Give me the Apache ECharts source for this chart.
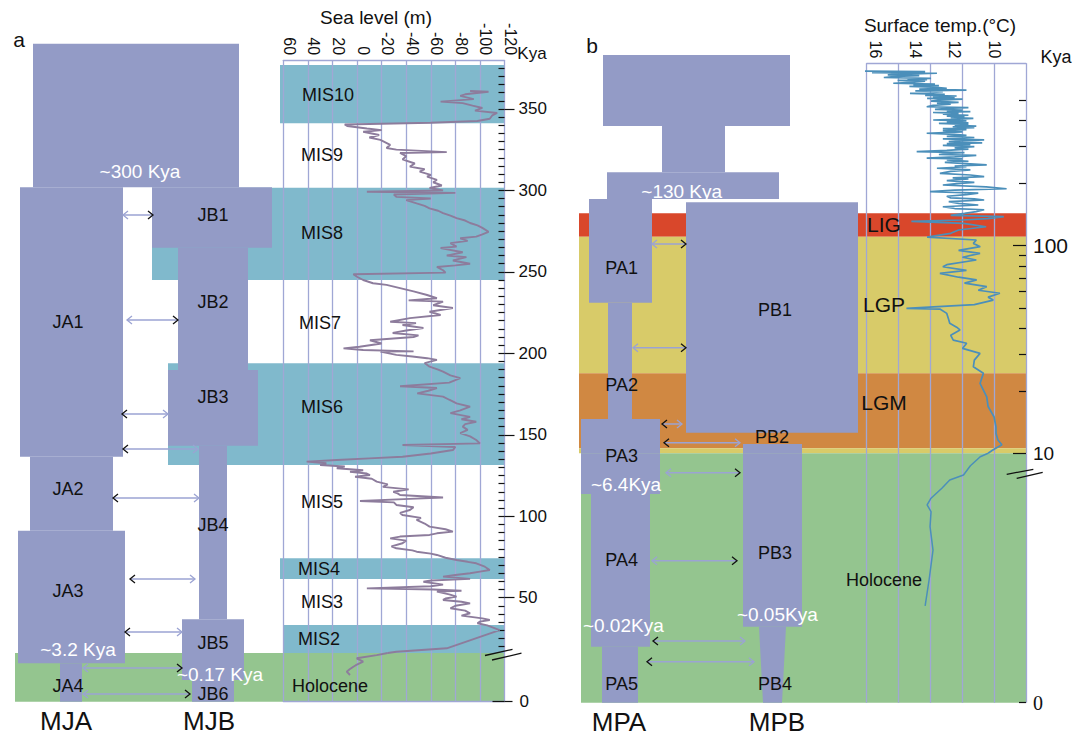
<!DOCTYPE html>
<html><head><meta charset="utf-8">
<script src="https://cdn.jsdelivr.net/npm/echarts@6/dist/echarts.min.js"></script>
<style>html,body{margin:0;padding:0;background:#fff}#c{width:1085px;height:738px}</style>
</head><body><div id="c"></div>
<script>
// ================= DATA =================
// Panel a: sea level (m) vs time (Kya)  [Kya, metres]
const seaLevel = [
[361,-92],[360.6,-107],[359,-88],[358,-84],[356,-95],[354.5,-68],[353.6,-86],[352,-94],[350.6,-102],[349,-96],
[347.5,-114],[346,-110],[344,-108],[342.6,-98],[341.5,-60],[340.5,10],[339.5,8],[338,-8],[337,-20],[336,-5],
[334,-18],[332.5,-10],[331,-19],[328,-27],[326,-24],[325,-32],[323.5,-73],[323,-35],[321,-40],[319,-37],
[316.5,-47],[314.6,-43],[313,-55],[311.5,-51],[309.5,-60],[308.4,-57],[306.5,-65],[305,-62],[303,-69],[301.5,-59],
[300,-70],[299.2,-8],[298.5,-80],[297.5,-30],[296,-32],[295,-60],[294,-40],[292,-48.5],[290.5,-55],[289,-59],
[287.5,-66],[286,-70],[284.5,-76],[283,-81],[281.5,-88],[280,-92],[278.5,-98],[277,-102],[274.6,-107],[273,-102],
[271.6,-97],[270.6,-84],[269,-90],[267.6,-76],[265.5,-81],[264.6,-68],[262,-86],[260,-73],[259,-89],[257,-78],
[255,-92],[254,-80],[253,-65],[251,-70],[249.5,-72],[248.5,3],[247,0],[245,-5],[243,-13],[242,-24],
[240,-35],[238,-46],[235.8,-57],[233.8,-65],[232.5,-42],[231.7,-70],[229.5,-62],[227.8,-78],[225.5,-59],[223.5,-68],
[221.6,-43],[219.4,-27],[218.5,-48],[217.4,-37],[215.5,-54],[214,-40],[212.5,-29],[211,-50],[210,-46],[208,-10.5],
[206,-20],[204,-2],[203,11],[202,-5],[201.2,-46],[201,-19],[199,-32],[198,-45],[197,-57],[196,-65],
[194,-55],[191.8,-59],[190,-66],[188.7,-70],[186.5,-76],[184.8,-84],[182,-75],[179.8,-35],[178.7,-65],[177,-58],
[175.4,-49],[173.4,-70],[171.5,-75],[169.3,-81],[167.2,-92],[165,-84],[163.3,-76],[161,-92],[159.5,-85],[158,-97],
[156.5,-88],[155,-86],[153,-90],[151,-84],[149,-92],[146.8,-97],[144.7,-100],[143.7,-37],[142.5,-80],[140.6,-78],
[138.5,-60],[136.5,-37],[135.5,-10],[134.5,16.5],[133.5,41],[132.5,25],[131.4,30],[130.5,10],[129.4,16.5],[128.2,-5],
[127.3,5.7],[126.2,-8],[125.3,-10.5],[124.2,1.6],[123,-12],[121.2,-16],[119.5,-25],[118,-21],[116.5,-42],[115,-29.5],
[114,-33],[113,-35],[111.5,-70],[110.5,-38],[109.3,-2.4],[108.5,-30],[106.9,-32],[105.5,-46],[103.8,-43],[102,-35],
[100.7,-37],[99,-52],[97.7,-48.5],[95.5,-55],[93.6,-59],[92,-72],[90.5,-78],[89.5,-65],[88.5,-59],[87.5,-35],
[86.4,-27],[85,-40],[83.4,-37],[81.5,-28],[80.3,-32],[79,-45],[78.2,-48.5],[77,-60],[76.2,-65],[74.5,-72],
[73.1,-81],[72,-90],[71.1,-97],[69,-104],[67,-108],[66,-100],[65,-92],[63.9,-80],[62.9,-70],[61.5,-92],
[60.5,-60],[59.8,-54],[58,-70],[57,-60],[55.7,-8],[55,-62],[54.2,-85],[53.7,-65],[52,-75],[50.6,-81],
[49.5,-72],[48.6,-70],[47.5,-85],[46.5,-92],[45,-80],[43.5,-76],[42,-88],[40.4,-92],[39,-85],[37.3,-102],
[36.3,-108],[35.3,-100],[34.3,-98],[33,-106],[30.1,-116],[18.9,-73],[16.8,-32],[16,-25],
[12,-25],[11.5,-16],[10.7,0.3],[9.86,-5],[9,1],[8.63,3],[8,6],[7.4,8.4],[6.58,5.7]
];
// Panel b: surface temperature (°C) vs time (Kya)  [Kya, °C]
const surfaceTemp = [
[694,16.65],[690,13.5],[688,15.0],[685,15.6],[682,16.2],[677,12.9],[674,13.7],[670,14.8],[665,15.4],[660,13.8],
[656,14.6],[652,15.1],[646,15.6],[640,13.2],[635,14.4],[630,13.4],[625,14.9],[620,13.5],[612,14.2],[606,15.12],
[600,13.0],[595,14.1],[590,12.8],[585,14.3],[580,13.1],[573,12.4],[568,13.8],[562,11.4],[557,14.0],[552,12.6],
[547,13.1],[542,14.27],[536,12.5],[530,13.5],[526,11.9],[522,13.1],[517,12.0],[512,13.4],[508,11.6],[503,12.75],
[497,13.2],[490,11.8],[485,12.9],[480,12.2],[474,13.1],[467,13.42],[462,11.3],[458,12.5],[454,13.0],[450,11.6],
[446,12.4],[442,11.2],[438,13.1],[434,11.8],[430,12.6],[425,11.3],[421,12.4],[418,11.5],[414,12.2],[410,11.05],
[406,12.0],[403,13.09],[399,11.4],[395,12.4],[391,11.3],[388,12.8],[384,11.3],[380,12.0],[377,10.9],[374,12.1],
[370,11.0],[366,12.6],[362,11.4],[358,12.6],[353,11.6],[348,13.42],[344,12.0],[340,11.4],[336,12.4],[332,11.0],
[327,12.6],[323,10.5],[320,11.8],[317,12.3],[313,10.6],[310,12.4],[307,11.2],[304,12.6],[300,11.0],[296,12.0],
[292,11.3],[288,12.4],[284,13.93],[281,11.5],[279,12.2],[275,12.8],[272,10.9],[268,12.0],[264,13.42],[262,11.6],
[259,12.4],[255,11.3],[252,12.5],[248,11.2],[245,10.37],[242,12.0],[240,11.4],[236,12.9],[232,11.2],[228,12.2],
[223,12.75],[219,11.2],[215,10.5],[212,12.1],[210,11.3],[206,12.4],[202,11.0],[199,11.9],[196,12.6],[192,10.4],
[188,9.36],[185,12.0],[182,13.25],[179,10.8],[176,11.4],[173,12.4],[170,12.2],[168,11.0],[166,10.5],[163,12.3],
[160,11.8],[157,10.8],[154,12.6],[151,12.0],[149,10.5],[146,10.9],[143,11.5],[140,12.2],[138,9.5],[135,10.3],
[133,11.6],[131,14.2],[128,11.55],[123.4,10.4],[119,11.8],[114.7,12.2],[110,13.4],[106.5,10.9],[102.6,11.05],
[98.9,10.7],[95,11.8],[91.9,10.71],[88,11.6],[85.3,10.9],[81,12.4],[79.2,12.6],[76,11.4],[73.6,12.75],[70.5,11.8],
[68.4,10.88],[66,11.5],[63.5,10.37],[61,10.8],[59,9.7],[56.5,10.3],[54.7,10.04],[52,11.0],[49.9,14.45],[49.5,12.75],
[47.2,12.4],[44,12.3],[42.3,12.25],[40.5,11.9],[39.3,11.73],[37,12.2],[35.1,12.07],[33.9,11.39],[32,11.6],[30.3,10.71],
[28.1,11.0],[26.1,11.05],[24.3,10.54],[21.7,10.71],[18.7,10.37],[16.8,10.3],[15,10.0],[13.4,9.9],[12.5,9.9],[11.6,9.8],
[11,9.6],[10.4,10.04],[10,10.3],
[9.86,10.7],[9.5,11.2],[9.13,11.55],[8.93,12.25],[8.6,12.65],[8.2,13.2],[7.93,13.4],[7.66,13.2],[7.06,13.25],
[6.12,13.1],[4.92,13.3],[3.88,13.5]
];
// Demographic blocks: [name, left, right, older Kya, younger Kya, (left at bottom), (right at bottom)]
const blocksA = [
['MJA-MJB ancestor',33,239,390,302],['JA1',20,123,302,136.5],['JB1',152,272,302,264.8],['JB2',178,248,264.8,189.7],
['JB3',168,258,189.7,143.3],['JB4',199,227,143.3,36.7],['JB5',182,244,36.7,5.35],['JB6',192,234,5.35,0],
['JA2',30,113,136.5,91],['JA3',18,125,91,9.46],['JA4',60,82,9.46,0]
];
const blocksB = [
['MPA-MPB ancestor',603,790,829,377],['ancestor neck',662,725,377,226],['ancestor ~130 Kya',607,779,226,168],
['PA1',589,652,168,53.1],['PB1',686,858,161.8,12.57],['PA2',608,632,53.1,14.63],['PA3',581,660,14.63,8.37],
['PB3',743,802,11.09,3.05],['PA4',591,650,8.37,2.245],['PA5',602,638,2.245,0],['PB4',759,786,3.05,0,763,782]
];
// Climate periods: [name, left, right, older Kya, younger Kya]
const periodsA = [
['MIS10',280,504.5,377,341.2],['MIS8',152,504.5,301.7,245],['MIS6',168,504.5,193.9,131.4],
['MIS4',280,504.5,74.2,61.4],['MIS2',283,504.5,33.2,16],['Holocene',15,504.5,12,0]
];
const periodsB = [
['LIG',579,1026,143.2,110.5],['LGP',579,1026,110.5,24.29],['LGM',579,1026,24.29,10.57],
['LGP',579,1026,10.57,10],['Holocene',581,1026,10,0]
];
// Gene-flow arrows: [Kya, from, to, side with black head]
const flowA = [
[284.9,123,153,'R'],[220.4,127,178,'R'],[162.7,122,168,'L'],[141.2,123,198,'L'],[111.2,113,199,'L'],
[61.4,130,195,'L'],[28.9,125,182,'L'],[8.3,83,182,'R'],[1.9,83,190,'R']
];
const flowB = [
[101.9,652,686,'R'],[32.26,633,686,'R'],[13.84,662,682,'L'],[11.25,664,740,'L'],
[9.22,666,740,'R'],[5.69,652,737,'R'],[2.47,653,745,'L'],[1.64,647,754,'L']
];
// Text labels: [text, x, Kya]
const popLabelsA = [['JA1',68,219.2],['JB1',213,285],['JB2',213,231.5],['JB3',213,173.2],['JA2',68,116.7],
['JB4',213,94.6],['JA3',68,54.1],['JB5',213,22],['JA4',68,3.87],['JB6',213,1.9]];
const splitLabelsA = [['~300 Kya',140,311.3],['~3.2 Kya',78,18.4],['~0.17 Kya',220,6.83]];
const periodLabelsA = [['MIS10',328,358.5],['MIS9',322,321.7],['MIS8',322,273.9],['MIS7',320,218.6],['MIS6',322,167],
['MIS5',322,108.7],['MIS4',319,67.6],['MIS3',322,47.3],['MIS2',319,24.6],['Holocene',330,3.87]];
const popLabelsB = [['PA1',621.7,77.8],['PB1',775,49],['PA2',621.7,21.33],['PB2',772,11.98],['PA3',621.7,9.89],
['PA4',621.7,5.72],['PB3',775,6.01],['PA5',621.7,0.74],['PB4',775,0.74]];
const splitLabelsB = [['~130 Kya',681.7,183.4],['~6.4Kya',626,8.76],['~0.02Kya',623.3,3.08],['~0.05Kya',777.3,3.54]];
const periodLabelsB = [['LIG',884,125.8],['LGP',884,51.8],['LGM',884,17.66],['Holocene',884,4.92]];
// Axis ticks
const kyaMajorA = [50,100,150,200,250,300,350];
const kyaMinorA = [20,25,30,35,40,45,50,55,60,65,70,75,80,85,90,95,100,105,110,115,120,125,130,135,140,145,150,155,
160,165,170,175,180,185,190,195,200,205,210,215,220,225,230,235,240,245,250,255,260,265,270,275,280,285,290,295,300,
305,310,315,320,325,330,335,340,345,350,355,360,365,370,375];
const kyaMajorB = [10,100];
const kyaMinorB = [20,30,40,50,60,70,80,90,200,300,400,500];
const tempTicks = [16,14,12,10];
const zeroTick = [0];

// ================= STYLE / LAYOUT =================
const FONT = '"Liberation Sans", Arial, Helvetica, sans-serif';
const C = {block:'#939bc6', lav:'#a0a7d5', arrow:'#9ba3d3', sea:'#8d7c9c', temp:'#4b8fba', text:'#111',
  MIS:'#80b9cc', Holocene:'#94c58f', LIG:'#d9472b', LGP:'#d8cb69', LGM:'#d08842'};
const bandColor = n => n.startsWith('MIS') ? C.MIS : C[n];
// panel a: linear Kya above the break, expanded Holocene below
const A = {y0:679.1, s:1.629, upMin:16, upMax:380, lowMax:12, bottom:701.7};
A.top = A.y0 - A.s*A.upMax; A.brk = A.y0 - A.s*A.upMin;
// panel b: log Kya above the break, linear Holocene below
const B = {top:63.3, brk:453.3, bottom:702.7, logMin:10, logMax:756, lowMax:10};
const PA = {left:283.3, width:221.2}, PB = {left:866.7, width:159.3};
const tempMin = 8.374, tempMax = 16.47;

function grid(left, top, width, height){ return {left, top, width, height, containLabel:false, outerBoundsMode:'none', show:false}; }
const grids = [
  grid(0, A.top, 1085, A.brk-A.top), grid(0, A.brk, 1085, A.bottom-A.brk),
  grid(PA.left, A.top, PA.width, A.brk-A.top), grid(PA.left, A.brk, PA.width, A.bottom-A.brk),
  grid(0, B.top, 1085, B.brk-B.top), grid(0, B.brk, 1085, B.bottom-B.brk),
  grid(PB.left, B.top, PB.width, B.brk-B.top), grid(PB.left, B.brk, PB.width, B.bottom-B.brk)
];
const hx = g => ({gridIndex:g, type:'value', min:0, max:1085, show:false});
const hy = (g, type, min, max) => ({gridIndex:g, type, min, max, show:false, logBase:10});
const lavLine = {show:true, lineStyle:{color:C.lav, width:1.3}};
const noLine = {show:false, onZero:false};
const seaAxis = (g, pos, labels) => ({gridIndex:g, type:'value', position:pos, min:-120, max:60, interval:20, inverse:true, z:3,
  axisLine:{show:true, onZero:false, lineStyle:{color:C.lav, width:1.3}}, axisTick:{show:false},
  axisLabel:{show:labels, rotate:90, margin:5, fontSize:16, fontFamily:FONT, color:C.text, verticalAlign:'bottom', lineHeight:12},
  splitLine:lavLine});
const xAxes = [
  hx(0), hx(1), seaAxis(2,'top',true), seaAxis(3,'bottom',false), hx(4), hx(5),
  {gridIndex:6, type:'value', position:'top', min:tempMin, max:tempMax, inverse:true, z:3,
   axisLine:{show:true, onZero:false, lineStyle:{color:C.lav, width:1.3}}, axisTick:{show:false}, splitLine:{show:false},
   axisLabel:{customValues:tempTicks, rotate:90, margin:5, fontSize:16, fontFamily:FONT, color:C.text}},
  {gridIndex:6, type:'value', position:'bottom', min:0, max:5, interval:1, z:3, axisLine:noLine, axisTick:{show:false}, axisLabel:{show:false}, splitLine:lavLine},
  {gridIndex:7, type:'value', position:'top', min:tempMin, max:tempMax, inverse:true, axisLine:noLine, axisTick:{show:false}, axisLabel:{show:false}, splitLine:{show:false}},
  {gridIndex:7, type:'value', position:'bottom', min:0, max:5, interval:1, z:3, axisLine:noLine, axisTick:{show:false}, axisLabel:{show:false}, splitLine:lavLine}
];
const tickStyle = {color:C.text, width:1.2};
const yAxes = [
  hy(0,'value',A.upMin,A.upMax), hy(1,'value',0,A.lowMax),
  {gridIndex:2, type:'value', position:'right', min:A.upMin, max:A.upMax, z:3, axisLine:noLine, splitLine:{show:false},
   axisTick:{show:true, inside:false, length:10, customValues:kyaMajorA, lineStyle:tickStyle},
   axisLabel:{customValues:kyaMajorA, margin:14, fontSize:17, fontFamily:FONT, color:C.text}},
  {gridIndex:2, type:'value', position:'right', min:A.upMin, max:A.upMax, z:3, axisLine:noLine, splitLine:{show:false},
   axisTick:{show:true, inside:true, length:6, customValues:kyaMinorA, lineStyle:tickStyle}, axisLabel:{show:false}},
  {gridIndex:3, type:'value', position:'right', min:0, max:A.lowMax, z:3, axisLine:noLine, splitLine:{show:false},
   axisTick:{show:true, inside:false, length:8, customValues:zeroTick, lineStyle:tickStyle},
   axisLabel:{customValues:zeroTick, margin:15, fontSize:17, fontFamily:FONT, color:C.text}},
  {gridIndex:3, type:'value', position:'right', min:0, max:A.lowMax, z:3, axisLine:noLine, splitLine:{show:false},
   axisTick:{show:true, inside:true, length:12, customValues:zeroTick, lineStyle:tickStyle}, axisLabel:{show:false}},
  hy(4,'log',B.logMin,B.logMax), hy(5,'value',0,B.lowMax),
  {gridIndex:6, type:'log', logBase:10, position:'right', min:B.logMin, max:B.logMax, z:3, axisLine:noLine, splitLine:{show:false},
   axisTick:{show:true, inside:true, length:13, customValues:kyaMajorB, lineStyle:tickStyle},
   axisLabel:{customValues:kyaMajorB, margin:7, color:C.text, fontFamily:FONT,
     formatter: v => Math.round(v) >= 100 ? '{a|' + Math.round(v) + '}' : '{b|' + Math.round(v) + '}',
     rich:{a:{fontSize:21, fontFamily:FONT, color:C.text}, b:{fontSize:19, fontFamily:FONT, color:C.text}}}},
  {gridIndex:6, type:'log', logBase:10, position:'right', min:B.logMin, max:B.logMax, z:3, axisLine:noLine, splitLine:{show:false},
   axisTick:{show:true, inside:true, length:7, customValues:kyaMinorB, lineStyle:tickStyle}, axisLabel:{show:false}},
  {gridIndex:7, type:'value', position:'right', min:0, max:B.lowMax, z:3, axisLine:noLine, splitLine:{show:false},
   axisTick:{show:true, inside:true, length:7, customValues:zeroTick, lineStyle:tickStyle},
   axisLabel:{customValues:zeroTick, margin:7, fontSize:20, fontFamily:'"Liberation Serif", "Times New Roman", serif', color:C.text}}
];

// ================= SERIES BUILDERS =================
function custom(xi, yi, z, data, renderItem){
  return {type:'custom', coordinateSystem:'cartesian2d', xAxisIndex:xi, yAxisIndex:yi, z, silent:true, clip:false, animation:false,
    data, renderItem};
}
function polySeries(arr, xi, yi, seg, z, colorOf){
  return custom(xi, yi, z, arr.map(d => [d[1], Math.max(d[3], 1)]), (params, api) => {
    const d = arr[params.dataIndex];
    const tOld = Math.min(d[3], seg.hi), tYoung = Math.max(d[4], seg.lo);
    if (!(tOld > tYoung)) return null;
    const lb = d[5] !== undefined ? d[5] : d[1], rb = d[6] !== undefined ? d[6] : d[2];
    const pts = [api.coord([d[1], tOld]), api.coord([d[2], tOld]), api.coord([rb, tYoung]), api.coord([lb, tYoung])];
    return {type:'polygon', shape:{points:pts}, style:{fill:colorOf(d[0])}};
  });
}
function arrowSeries(arr, xi, yi, seg){
  const items = arr.filter(d => d[0] >= seg.lo && d[0] <= seg.hi);
  return custom(xi, yi, 5, items.map(d => [d[1], d[0]]), (params, api) => {
    const d = items[params.dataIndex];
    const a = api.coord([d[1], d[0]]), b = api.coord([d[2], d[0]]), y = a[1];
    const lc = d[3] === 'L' ? '#111' : C.arrow, rc = d[3] === 'R' ? '#111' : C.arrow;
    return {type:'group', children:[
      {type:'line', shape:{x1:a[0], y1:y, x2:b[0], y2:y}, style:{stroke:C.arrow, lineWidth:1.5}},
      {type:'polyline', shape:{points:[[a[0]+5,y-4],[a[0],y],[a[0]+5,y+4]]}, style:{stroke:lc, lineWidth:1.3, fill:null}},
      {type:'polyline', shape:{points:[[b[0]-5,y-4],[b[0],y],[b[0]-5,y+4]]}, style:{stroke:rc, lineWidth:1.3, fill:null}}
    ]};
  });
}
function textSeries(arr, xi, yi, seg, size, color){
  const items = arr.filter(d => d[2] >= seg.lo && d[2] <= seg.hi);
  return custom(xi, yi, 6, items.map(d => [d[1], d[2]]), (params, api) => {
    const d = items[params.dataIndex];
    const p = api.coord([d[1], d[2]]);
    return {type:'text', x:p[0], y:p[1], style:{text:d[0], fill:color, font:size + 'px ' + FONT,
      align:'center', verticalAlign:'middle', textAlign:'center', textVerticalAlign:'middle'}};
  });
}
function curve(pairs, xi, yi, color, width){
  return {type:'line', xAxisIndex:xi, yAxisIndex:yi, z:5, silent:true, showSymbol:false, symbol:'none', animation:false,
    lineStyle:{color, width}, data: pairs.map(p => [p[1], p[0]])};
}
const segAU = {lo:A.upMin, hi:Infinity}, segAL = {lo:-Infinity, hi:A.lowMax};
const segBU = {lo:B.logMin, hi:Infinity}, segBL = {lo:-Infinity, hi:B.lowMax};
const blockColor = () => C.block;

const series = [
  polySeries(periodsA, 0, 0, segAU, 1, bandColor), polySeries(periodsA, 1, 1, segAL, 1, bandColor),
  polySeries(blocksA, 0, 0, segAU, 4, blockColor), polySeries(blocksA, 1, 1, segAL, 4, blockColor),
  arrowSeries(flowA, 0, 0, segAU), arrowSeries(flowA, 1, 1, segAL),
  textSeries(popLabelsA, 0, 0, segAU, 18, C.text), textSeries(popLabelsA, 1, 1, segAL, 18, C.text),
  textSeries(splitLabelsA, 0, 0, segAU, 19, '#fff'), textSeries(splitLabelsA, 1, 1, segAL, 19, '#fff'),
  textSeries(periodLabelsA, 0, 0, segAU, 18, C.text), textSeries(periodLabelsA, 1, 1, segAL, 18, C.text),
  curve(seaLevel.filter(p => p[0] >= A.upMin), 2, 2, C.sea, 1.9), curve(seaLevel.filter(p => p[0] <= A.lowMax), 3, 4, C.sea, 1.9),

  polySeries(periodsB, 4, 6, segBU, 1, bandColor), polySeries(periodsB, 5, 7, segBL, 1, bandColor),
  polySeries(blocksB, 4, 6, segBU, 4, blockColor), polySeries(blocksB, 5, 7, segBL, 4, blockColor),
  arrowSeries(flowB, 4, 6, segBU), arrowSeries(flowB, 5, 7, segBL),
  textSeries(popLabelsB, 4, 6, segBU, 18, C.text), textSeries(popLabelsB, 5, 7, segBL, 18, C.text),
  textSeries(splitLabelsB, 4, 6, segBU, 19, '#fff'), textSeries(splitLabelsB, 5, 7, segBL, 19, '#fff'),
  textSeries(periodLabelsB.filter(d => d[0] !== 'Holocene'), 4, 6, segBU, 21, C.text),
  textSeries(periodLabelsB.filter(d => d[0] === 'Holocene'), 5, 7, segBL, 18, C.text),
  curve(surfaceTemp.filter(p => p[0] >= B.logMin), 6, 8, C.temp, 1.7),
  curve(surfaceTemp.filter(p => p[0] <= B.lowMax), 8, 10, C.temp, 1.5)
];

// static text & break marks
function txt(text, x, y, size, family){
  return {type:'text', x, y, z:10, style:{text, font:size + 'px ' + (family || FONT), fill:C.text,
    align:'center', verticalAlign:'middle', textAlign:'center', textVerticalAlign:'middle'}};
}
function brk(x1, y1, x2, y2){ return {type:'line', z:10, shape:{x1, y1, x2, y2}, style:{stroke:'#111', lineWidth:1.3}}; }
const graphics = [
  txt('a', 19, 39, 21), txt('b', 592, 45, 21),
  txt('Sea level (m)', 376, 17.5, 19), txt('Kya', 532, 53, 17),
  txt('Surface temp.(°C)', 940, 25, 19), txt('Kya', 1056, 57, 18),
  txt('MJA', 66, 721, 26), txt('MJB', 209, 721, 26), txt('MPA', 619, 722, 26), txt('MPB', 777, 722, 26),
  brk(485, 655.5, 512.5, 649.3), brk(492, 660, 521.5, 653.2),
  brk(1006.7, 474.3, 1033.3, 469.3), brk(1016.7, 478.3, 1042.7, 472.3)
];

const chart = echarts.init(document.getElementById('c'), null, {renderer:'svg'});
chart.setOption({
  animation:false, backgroundColor:'#fff',
  grid:grids, xAxis:xAxes, yAxis:yAxes, series, graphic:{elements:graphics}
});
</script></body></html>
